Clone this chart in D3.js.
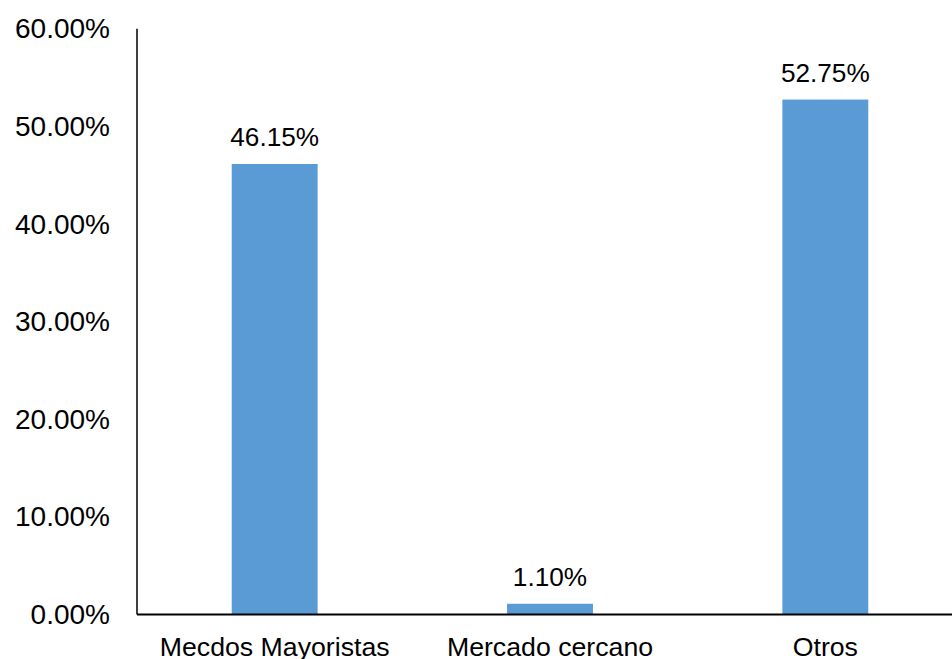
<!DOCTYPE html>
<html>
<head>
<meta charset="utf-8">
<script src="https://cdn.jsdelivr.net/npm/d3@7"></script>
<style>
html,body{margin:0;padding:0;background:#fff;}
svg{display:block;}
text{font-family:"Liberation Sans",Arial,sans-serif;fill:#000;}
</style>
</head>
<body>
<svg id="chart" width="952" height="659"></svg>
<script>
const categories = ["Mecdos Mayoristas", "Mercado cercano", "Otros"];
const values = [46.15, 1.10, 52.75];
const yTicks = [0, 10, 20, 30, 40, 50, 60];

const W = 952, H = 659;
const svg = d3.select("#chart");
const x0 = 137, x1 = 963, yTop = 28.8, yBottom = 614.5;

const x = d3.scaleBand().domain(categories).range([x0, x1]).paddingInner(0.688).paddingOuter(0.344);
const y = d3.scaleLinear().domain([0, 60]).range([yBottom, yTop]);

// bars
svg.append("g").selectAll("rect").data(values).join("rect")
  .attr("x", (d, i) => x(categories[i]))
  .attr("y", d => y(d))
  .attr("width", x.bandwidth())
  .attr("height", d => y(0) - y(d))
  .attr("fill", "#5B9BD5");

// value labels
svg.append("g").selectAll("text").data(values).join("text")
  .attr("x", (d, i) => x(categories[i]) + x.bandwidth() / 2)
  .attr("y", d => y(d) - 17.5)
  .attr("text-anchor", "middle")
  .attr("font-size", 26.2)
  .text(d => d.toFixed(2) + "%");

// y axis
const yAxis = d3.axisLeft(y).tickValues(yTicks).tickSize(0).tickPadding(27)
  .tickFormat(d => d.toFixed(2) + "%");
const gy = svg.append("g").attr("transform", `translate(${x0},0)`).call(yAxis);
gy.select(".domain").remove();
gy.selectAll("text").attr("font-size", 28).attr("font-family", "Liberation Sans, Arial, sans-serif").attr("fill", "#000");
svg.append("line").attr("x1", x0).attr("x2", x0).attr("y1", yTop).attr("y2", yBottom)
  .attr("stroke", "#000").attr("stroke-width", 1.5);

// x axis
const xAxis = d3.axisBottom(x).tickSize(0).tickPadding(23);
const gx = svg.append("g").attr("transform", `translate(0,${yBottom})`).call(xAxis);
gx.select(".domain").remove();
gx.selectAll("text").attr("font-size", 26.7).attr("font-family", "Liberation Sans, Arial, sans-serif").attr("fill", "#000");
svg.append("line").attr("x1", x0).attr("x2", W).attr("y1", yBottom).attr("y2", yBottom)
  .attr("stroke", "#000").attr("stroke-width", 2);
</script>
</body>
</html>
